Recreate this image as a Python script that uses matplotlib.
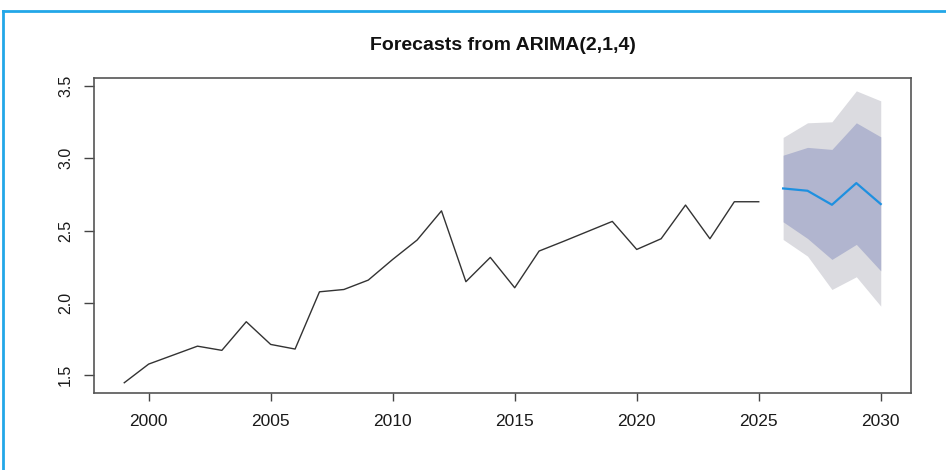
import numpy as np
import matplotlib.pyplot as plt
from matplotlib.lines import Line2D

plt.rcParams['font.family'] = ['Liberation Sans', 'DejaVu Sans']

# observed series
years = list(range(1999, 2026))
values = [1.447, 1.576, 1.638, 1.700, 1.671, 1.869, 1.712, 1.680, 2.076, 2.092,
          2.157, 2.300, 2.434, 2.636, 2.146, 2.314, 2.104, 2.358, 2.425, 2.494,
          2.563, 2.369, 2.443, 2.676, 2.443, 2.699, 2.699]

# forecast
fc_years = [2026, 2027, 2028, 2029, 2030]
fc_mean = [2.791, 2.775, 2.678, 2.828, 2.683]
lo80 = [2.560, 2.445, 2.300, 2.404, 2.221]
hi80 = [3.021, 3.075, 3.061, 3.245, 3.148]
lo95 = [2.438, 2.323, 2.092, 2.180, 1.977]
hi95 = [3.144, 3.245, 3.252, 3.466, 3.397]

xticks = [2000, 2005, 2010, 2015, 2020, 2025, 2030]
yticks = [1.5, 2.0, 2.5, 3.0, 3.5]

fig = plt.figure(figsize=(9.46, 4.70), dpi=100)
ax = fig.add_axes([94/946, 1-393/470, (911-94)/946, (393-78)/470])

ax.fill_between(fc_years, lo95, hi95, color='#dbdbe0', lw=0)
ax.fill_between(fc_years, lo80, hi80, color='#b1b5cf', lw=0)
ax.plot(years, values, color='#333333', lw=1.0)
ax.plot(fc_years, fc_mean, color='#1e90e0', lw=1.6)

ax.set_xlim(1997.76, 2031.24)
ax.set_ylim(1.376, 3.555)
ax.set_xticks(xticks)
ax.set_xticklabels([str(x) for x in xticks])
ax.set_yticks(yticks)
ax.set_yticklabels(['1.5', '2.0', '2.5', '3.0', '3.5'], rotation=90, va='center')
ax.tick_params(axis='x', length=6, width=1.0, color='#444444', labelsize=12.5,
               labelcolor='#1a1a1a', pad=9)
ax.tick_params(axis='y', length=7, width=1.0, color='#444444', labelsize=11.5,
               labelcolor='#1a1a1a', pad=8)
for s in ax.spines.values():
    s.set_color('#555555')
    s.set_linewidth(1.2)

ax.set_title('Forecasts from ARIMA(2,1,4)', fontsize=14, fontweight='bold',
             color='#111111', pad=20)

# blue frame on top and left
fig.add_artist(Line2D([3/946, 3/946], [0, 1-11/470], color='#22a7e8', lw=2))
fig.add_artist(Line2D([3/946, 1], [1-11/470, 1-11/470], color='#22a7e8', lw=2))

fig.savefig('out.png', dpi=100)
